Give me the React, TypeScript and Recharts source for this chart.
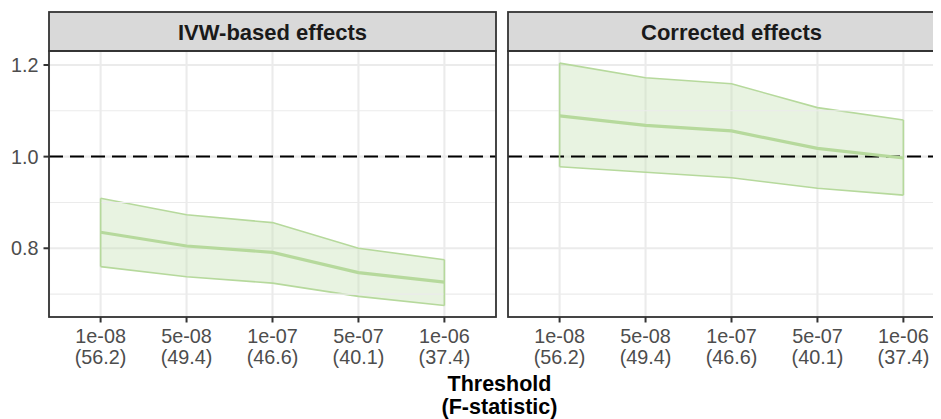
import React from 'react';
import { ComposedChart, Area, Line, XAxis, YAxis, CartesianGrid, ReferenceLine } from 'recharts';

const thresholds = ['1e-08', '5e-08', '1e-07', '5e-07', '1e-06'];
const fstats = ['56.2', '49.4', '46.6', '40.1', '37.4'];

const ivwLow = [0.760, 0.738, 0.724, 0.695, 0.675];
const ivwMid = [0.835, 0.805, 0.791, 0.747, 0.726];
const ivwHigh = [0.909, 0.873, 0.856, 0.800, 0.775];

const corLow = [0.978, 0.966, 0.954, 0.931, 0.916];
const corMid = [1.089, 1.068, 1.056, 1.018, 0.997];
const corHigh = [1.204, 1.172, 1.159, 1.107, 1.080];

const panelTitles = ['IVW-based effects', 'Corrected effects'];
const yTicks = [0.8, 1.0, 1.2];
const yMinor = [0.7, 0.9, 1.1];
const yDomain = [0.65, 1.2305];
const axisTitle = ['Threshold', '(F-statistic)'];

const FONT = '"Liberation Sans", Arial, Helvetica, sans-serif';
const GREEN = '#b6d99c';
const FILL = '#c6e2b3';
const BORDER = '#333333';

const W = 941;
const H = 419;
const STRIP_TOP = 12;
const PANEL_TOP = 51;
const PANEL_BOTTOM = 317;
const PANEL_W = 447;
const LEFT_X0 = 49;
const RIGHT_X0 = 508;
const Y_AXIS_W = 49;
const PAD = 51.6;

function buildRows(lo: number[], mid: number[], hi: number[]) {
  return thresholds.map((t, i) => ({ threshold: t, fstat: fstats[i], lo: lo[i], mid: mid[i], hi: hi[i] }));
}

const XTick = (props: any) => {
  const { x, y, payload, index } = props;
  return (
    <g>
      <text x={x} y={y + 18.2} textAnchor="middle" fill="#4d4d4d" fontSize={19.8} fontFamily={FONT}>
        {payload.value}
      </text>
      <text x={x} y={y + 39.8} textAnchor="middle" fill="#4d4d4d" fontSize={19.8} fontFamily={FONT}>
        {'(' + fstats[index] + ')'}
      </text>
    </g>
  );
};

function Panel({ rows, showY, left }: { rows: any[]; showY: boolean; left: number }) {
  const first = rows[0];
  const last = rows[rows.length - 1];
  const width = showY ? Y_AXIS_W + PANEL_W : PANEL_W;
  return (
    <div style={{ position: 'absolute', left, top: 0 }}>
      <ComposedChart
        width={width}
        height={H}
        data={rows}
        margin={{ top: PANEL_TOP, right: 0, bottom: 0, left: 0 }}
      >
        {yMinor.map((v) => (
          <ReferenceLine key={v} y={v} stroke="#ebebeb" strokeWidth={1.1} />
        ))}
        <CartesianGrid stroke="#ebebeb" strokeWidth={2.1} />
        <XAxis
          dataKey="threshold"
          type="category"
          padding={{ left: PAD, right: PAD }}
          height={H - PANEL_BOTTOM}
          axisLine={false}
          tickSize={5.5}
          tickMargin={2}
          tickLine={{ stroke: BORDER, strokeWidth: 2 }}
          tick={<XTick />}
          interval={0}
        />
        <YAxis
          type="number"
          domain={yDomain}
          ticks={yTicks}
          allowDataOverflow
          hide={!showY}
          width={Y_AXIS_W}
          axisLine={false}
          tickSize={5.5}
          tickMargin={5}
          tickLine={{ stroke: BORDER, strokeWidth: 2 }}
          tick={{ fill: '#4d4d4d', fontSize: 19.8, fontFamily: FONT }}
          tickFormatter={(v: number) => v.toFixed(1)}
        />
        <ReferenceLine y={1} stroke="#000" strokeWidth={2} strokeDasharray="14 7" />
        <Area
          type="linear"
          dataKey={(d: any) => [d.lo, d.hi]}
          fill={FILL}
          fillOpacity={0.4}
          stroke={GREEN}
          strokeWidth={1.6}
          dot={false}
          activeDot={false}
          isAnimationActive={false}
        />
        <ReferenceLine
          segment={[{ x: first.threshold, y: first.lo }, { x: first.threshold, y: first.hi }]}
          stroke={GREEN}
          strokeWidth={1.6}
        />
        <ReferenceLine
          segment={[{ x: last.threshold, y: last.lo }, { x: last.threshold, y: last.hi }]}
          stroke={GREEN}
          strokeWidth={1.6}
        />
        <Line
          type="linear"
          dataKey="mid"
          stroke={GREEN}
          strokeWidth={3.2}
          dot={false}
          activeDot={false}
          isAnimationActive={false}
        />
      </ComposedChart>
    </div>
  );
}

export default function App() {
  const ivwRows = buildRows(ivwLow, ivwMid, ivwHigh);
  const corRows = buildRows(corLow, corMid, corHigh);
  const panelsX = [LEFT_X0, RIGHT_X0];
  return (
    <div
      style={{
        position: 'relative',
        marginLeft: -8,
        marginTop: -8,
        width: W,
        height: H,
        overflow: 'hidden',
        background: '#fff',
        fontFamily: FONT,
      }}
    >
      <Panel rows={ivwRows} showY={true} left={0} />
      <Panel rows={corRows} showY={false} left={RIGHT_X0} />
      <svg width={W} height={H} style={{ position: 'absolute', left: 0, top: 0, pointerEvents: 'none' }}>
        {panelsX.map((x0, i) => (
          <g key={i}>
            <rect x={x0} y={STRIP_TOP} width={PANEL_W} height={PANEL_TOP - STRIP_TOP} fill="#d9d9d9" stroke={BORDER} strokeWidth={1.8} />
            <text
              x={x0 + PANEL_W / 2}
              y={39.5}
              textAnchor="middle"
              fontSize={22}
              fontWeight="bold"
              fill="#1a1a1a"
              fontFamily={FONT}
            >
              {panelTitles[i]}
            </text>
            <rect x={x0} y={PANEL_TOP} width={PANEL_W} height={PANEL_BOTTOM - PANEL_TOP} fill="none" stroke={BORDER} strokeWidth={1.8} />
          </g>
        ))}
        <text x={499.5} y={391} textAnchor="middle" fontSize={21.5} fontWeight="bold" fill="#000" fontFamily={FONT}>
          {axisTitle[0]}
        </text>
        <text x={499.5} y={413.5} textAnchor="middle" fontSize={21.5} fontWeight="bold" fill="#000" fontFamily={FONT}>
          {axisTitle[1]}
        </text>
      </svg>
    </div>
  );
}
